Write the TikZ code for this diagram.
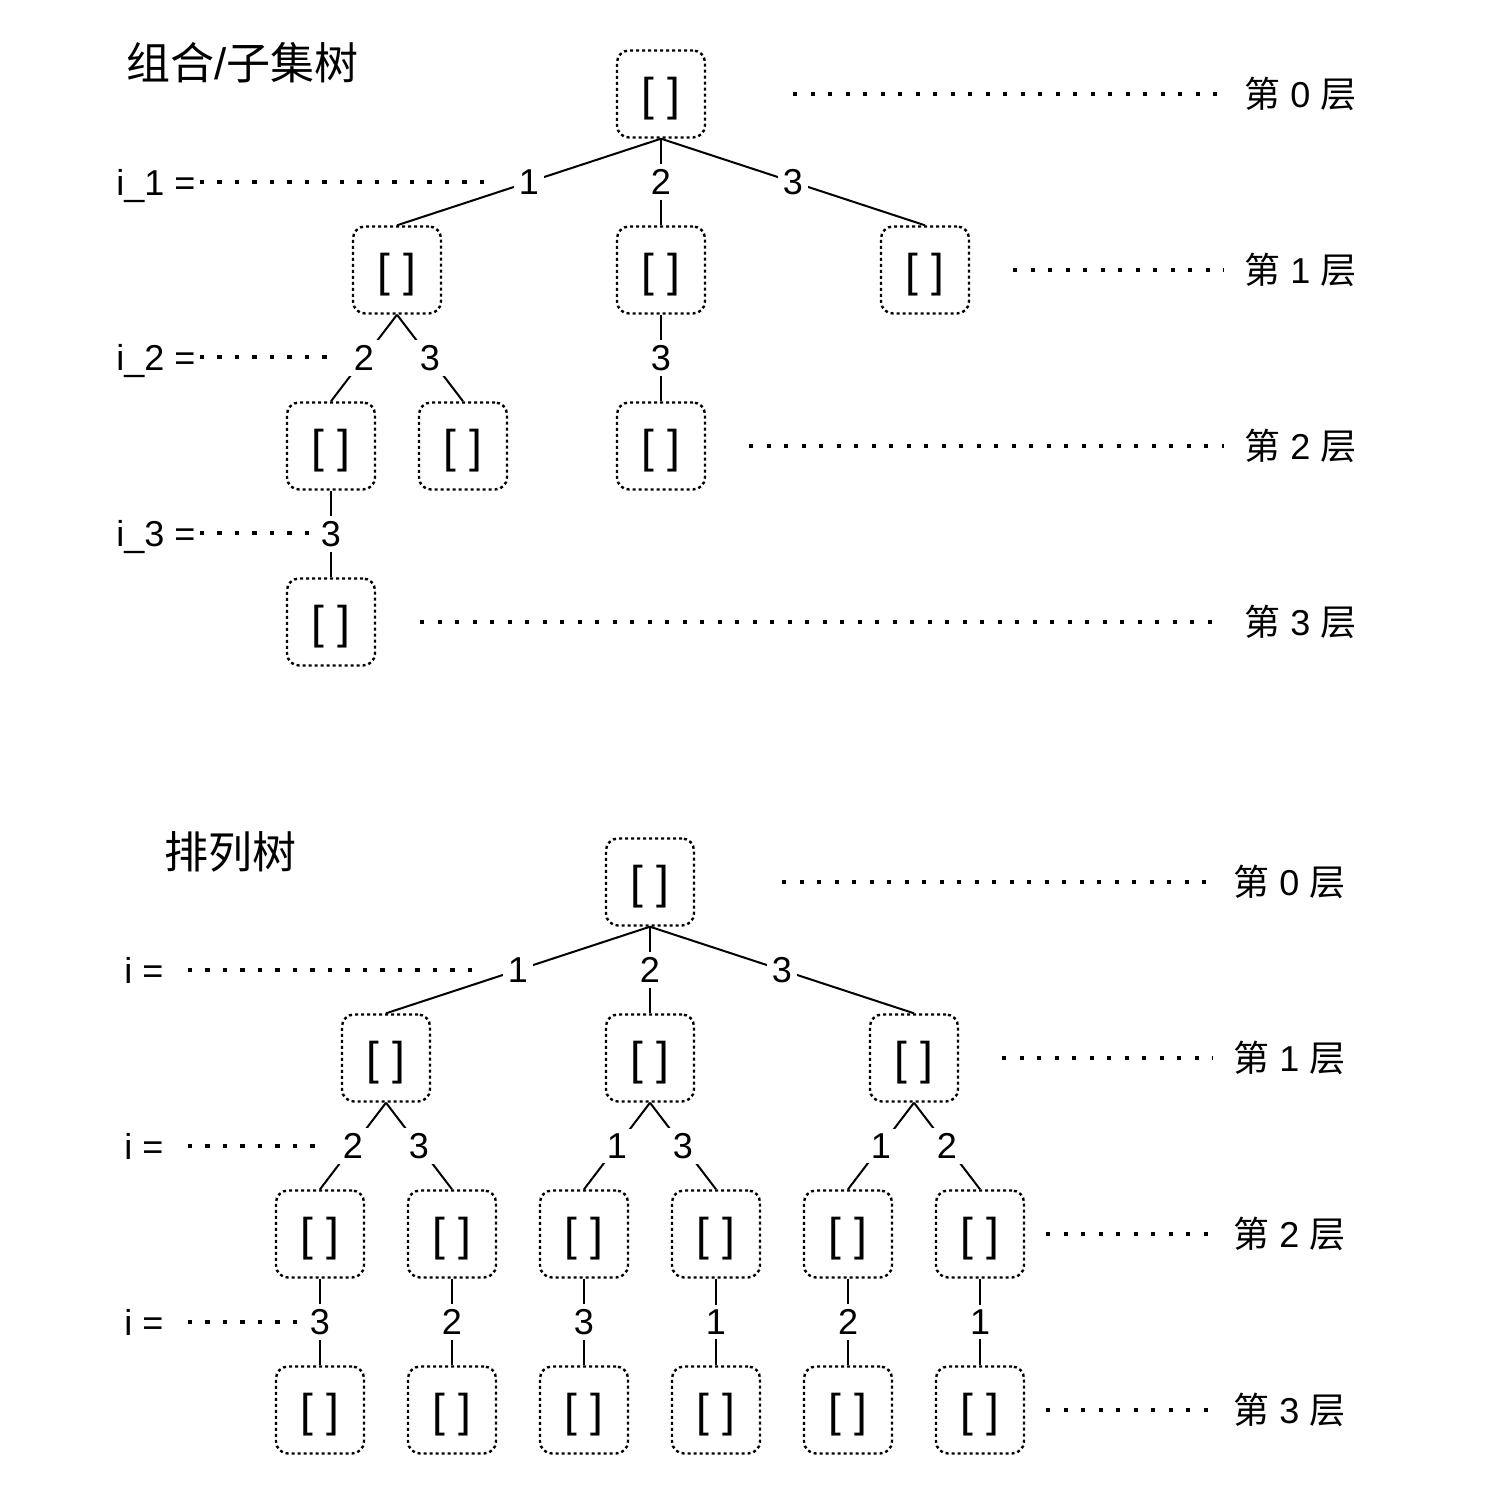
\documentclass[tikz,border=0pt]{standalone}
\usepackage{fontspec}
\setmainfont{Liberation Sans}
\newfontfamily\cjk{Noto Sans CJK SC}
\usetikzlibrary{positioning}

\begin{document}
\begin{tikzpicture}[x=0.5pt,y=-0.5pt,
  box/.style={draw,rounded corners=6pt,line width=1.2pt,dash pattern=on 1.5pt off 1.5pt,
    minimum width=44pt,minimum height=43.5pt,inner sep=0pt,text height=21.5pt,text depth=4.8pt,
    font=\fontsize{23}{23}\selectfont},
  edge/.style={line width=1pt},
  lbl/.style={fill=white,inner sep=2.5pt,font=\fontsize{18}{18}\selectfont},
  guide/.style={line width=2.2pt,dash pattern=on 2.2pt off 6.55pt},
  side/.style={anchor=west,inner sep=0pt,font=\fontsize{18}{18}\selectfont},
  title/.style={anchor=west,inner sep=0pt,font=\fontsize{22}{22}\selectfont}]
\useasboundingbox (0,0) rectangle (1489,1510);

% Subset tree
\node[title] (t1) at (126,63) {{\cjk 组合}/{\cjk 子集树}};
\node[box] (r) at (661,94) {[ ]};
\node[box] (a1) at (397,270) {[ ]};
\node[box] (a2) at (661,270) {[ ]};
\node[box] (a3) at (925,270) {[ ]};
\node[box] (b1) at (331,446) {[ ]};
\node[box] (b2) at (463,446) {[ ]};
\node[box] (b3) at (661,446) {[ ]};
\node[box] (c1) at (331,622) {[ ]};

\draw[edge] (r.south) -- node[lbl] {1} (a1.north);
\draw[edge] (r.south) -- node[lbl] {2} (a2.north);
\draw[edge] (r.south) -- node[lbl] {3} (a3.north);
\draw[edge] (a1.south) -- node[lbl] {2} (b1.north);
\draw[edge] (a1.south) -- node[lbl] {3} (b2.north);
\draw[edge] (a2.south) -- node[lbl] {3} (b3.north);
\draw[edge] (b1.south) -- node[lbl] {3} (c1.north);

% Index labels on the left
\node[side,text depth=0pt] (i1) at (116,182) {i\_1 =};
\node[side,text depth=0pt] (i2) at (116,357) {i\_2 =};
\node[side,text depth=0pt] (i3) at (116,533) {i\_3 =};
\coordinate (e1) at (489,182);
\coordinate (e2) at (327,357);
\coordinate (e3) at (312,533);
\foreach \k in {1,2,3} {
  \draw[guide,shorten <=2pt] (i\k.east) -- (e\k);
}

% Level labels on the right
\node[side] (l0) at (1244,94) {{\cjk 第} 0 {\cjk 层}};
\node[side] (l1) at (1244,270) {{\cjk 第} 1 {\cjk 层}};
\node[side] (l2) at (1244,446) {{\cjk 第} 2 {\cjk 层}};
\node[side] (l3) at (1244,622) {{\cjk 第} 3 {\cjk 层}};
\coordinate (d0) at (793,94);
\coordinate (d1) at (1013,270);
\coordinate (d2) at (749,446);
\coordinate (d3) at (420,622);
\foreach \k in {0,1,2,3} {
  \draw[guide,shorten >=10pt] (d\k) -- (l\k.west);
}

% Permutation tree
\node[title] (t2) at (164,852) {\cjk 排列树};
\node[box] (pr) at (650,882) {[ ]};
\foreach \i/\x/\v in {1/386/1,2/650/2,3/914/3} {
  \node[box] (p\i) at (\x,1058) {[ ]};
  \draw[edge] (pr.south) -- node[lbl] {\v} (p\i.north);
}
\foreach \i/\x/\v in {1/320/3,2/452/2,3/584/3,4/716/1,5/848/2,6/980/1} {
  \node[box] (q\i) at (\x,1234) {[ ]};
  \node[box] (s\i) at (\x,1410) {[ ]};
  \draw[edge] (q\i.south) -- node[lbl] {\v} (s\i.north);
}
\foreach \p/\a/\b/\u/\w in {1/1/2/2/3,2/3/4/1/3,3/5/6/1/2} {
  \draw[edge] (p\p.south) -- node[lbl] {\u} (q\a.north);
  \draw[edge] (p\p.south) -- node[lbl] {\w} (q\b.north);
}

% Index labels on the left
\node[side] (j1) at (124,970) {i =};
\node[side] (j2) at (124,1146) {i =};
\node[side] (j3) at (124,1322) {i =};
\coordinate (f1) at (477,970);
\coordinate (f2) at (317,1146);
\coordinate (f3) at (299,1322);
\foreach \k in {1,2,3} {
  \draw[guide,shorten <=12pt] (j\k.east) -- (f\k);
}

% Level labels on the right
\node[side] (m0) at (1233,882) {{\cjk 第} 0 {\cjk 层}};
\node[side] (m1) at (1233,1058) {{\cjk 第} 1 {\cjk 层}};
\node[side] (m2) at (1233,1234) {{\cjk 第} 2 {\cjk 层}};
\node[side] (m3) at (1233,1410) {{\cjk 第} 3 {\cjk 层}};
\coordinate (h0) at (782,882);
\coordinate (h1) at (1002,1058);
\coordinate (h2) at (1046,1234);
\coordinate (h3) at (1046,1410);
\foreach \k in {0,1,2,3} {
  \draw[guide,shorten >=10pt] (h\k) -- (m\k.west);
}
\end{tikzpicture}
\end{document}
